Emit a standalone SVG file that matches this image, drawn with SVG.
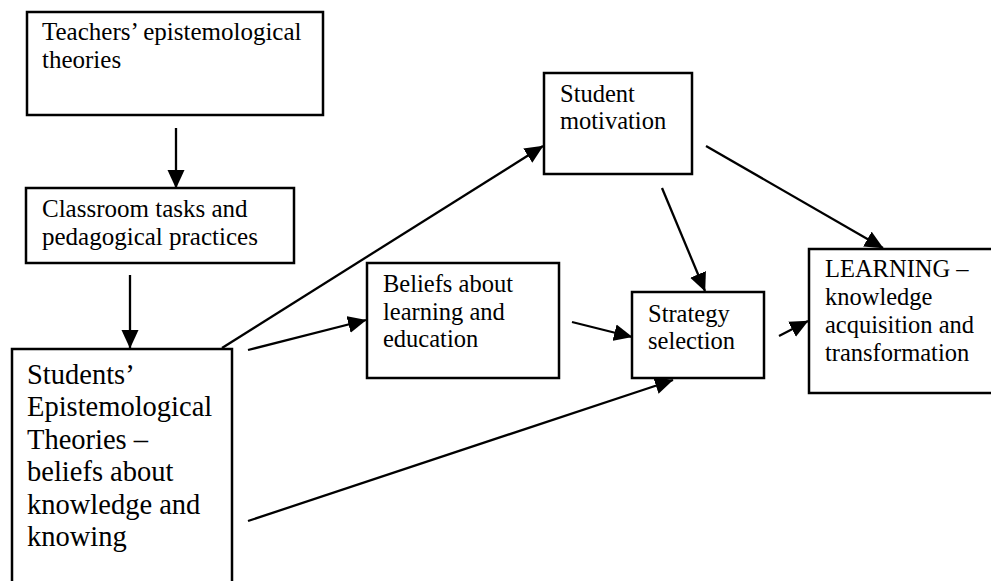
<svg xmlns="http://www.w3.org/2000/svg" width="991" height="581" viewBox="0 0 991 581">
<style>
.box{fill:#fff;stroke:#000;stroke-width:2.5}
.t{font-family:"Liberation Serif","Times New Roman",serif;font-size:24.5px;fill:#000}
.t25{font-size:25px}
.tb{font-family:"Liberation Serif","Times New Roman",serif;font-size:28.5px;fill:#000}
.c{stroke:#000;stroke-width:2.3;fill:none;marker-end:url(#ah)}
</style>
<defs>
<marker id="ah" markerUnits="userSpaceOnUse" markerWidth="19" markerHeight="18" refX="18" refY="8.5" orient="auto" viewBox="0 0 19 17">
<path d="M0,0 L18.5,8.5 L0,17 z" fill="#000"/>
</marker>
</defs>
<rect width="991" height="581" fill="#fff"/>
<g id="connectors">
<line class="c" x1="176" y1="128" x2="176" y2="188"/>
<line class="c" x1="130" y1="275" x2="130" y2="348"/>
<line class="c" x1="222" y1="348" x2="543" y2="146"/>
<line class="c" x1="248" y1="350" x2="366" y2="320"/>
<line class="c" x1="248" y1="521" x2="673" y2="380"/>
<line class="c" x1="572" y1="322" x2="632" y2="337"/>
<line class="c" x1="662" y1="188" x2="705" y2="291"/>
<line class="c" x1="706" y1="146" x2="883" y2="248"/>
<line class="c" x1="779" y1="336" x2="808" y2="321"/>
</g>
<g id="teachers">
<rect class="box" x="27" y="12" width="296" height="103"/>
<text class="t t25" x="42" y="40">Teachers’ epistemological</text>
<text class="t t25" x="42" y="68">theories</text>
</g>
<g id="classroom">
<rect class="box" x="26" y="188" width="268" height="75"/>
<text class="t t25" x="42" y="217">Classroom tasks and</text>
<text class="t t25" x="42" y="245">pedagogical practices</text>
</g>
<g id="students">
<rect class="box" x="12" y="349" width="220" height="250"/>
<text class="tb" x="27" y="384">Students’</text>
<text class="tb" x="27" y="416">Epistemological</text>
<text class="tb" x="27" y="449">Theories –</text>
<text class="tb" x="27" y="481">beliefs about</text>
<text class="tb" x="27" y="514">knowledge and</text>
<text class="tb" x="27" y="546">knowing</text>
</g>
<g id="motivation">
<rect class="box" x="544" y="73" width="148" height="101"/>
<text class="t" x="560" y="102">Student</text>
<text class="t" x="560" y="129">motivation</text>
</g>
<g id="beliefs">
<rect class="box" x="367" y="263" width="192" height="115"/>
<text class="t" x="383" y="292">Beliefs about</text>
<text class="t" x="383" y="320">learning and</text>
<text class="t" x="383" y="347">education</text>
</g>
<g id="strategy">
<rect class="box" x="632" y="292" width="132" height="86"/>
<text class="t" x="648" y="322">Strategy</text>
<text class="t" x="648" y="349">selection</text>
</g>
<g id="learning">
<rect class="box" x="809" y="249" width="190" height="144"/>
<text class="t" x="825" y="277">LEARNING –</text>
<text class="t" x="825" y="305">knowledge</text>
<text class="t" x="825" y="333">acquisition and</text>
<text class="t" x="825" y="361">transformation</text>
</g>
</svg>
